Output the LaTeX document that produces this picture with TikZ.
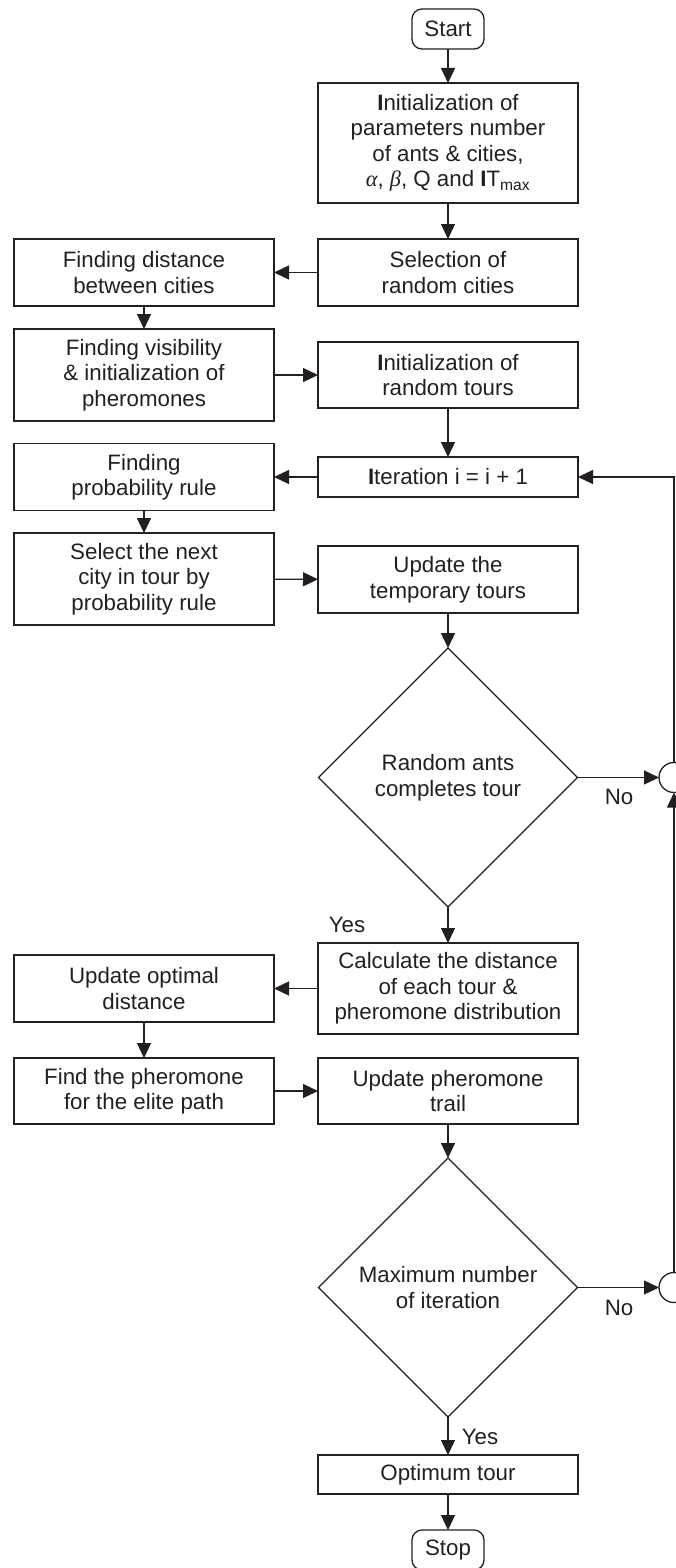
\documentclass[tikz,border=0pt]{standalone}
\usepackage{fontspec}
\setmainfont{Liberation Sans}
\newfontfamily\greekfont{Liberation Serif}
\usetikzlibrary{shapes.geometric,arrows.meta}
\definecolor{ink}{RGB}{35,31,32}
\begin{document}
\begin{tikzpicture}[x=1pt,y=-1pt,
  every node/.style={text=ink,font=\fontsize{22.3}{25.5}\selectfont},
  base/.style={draw=ink,line width=1.3pt,align=center,inner sep=0pt,outer sep=0pt},
  procbox/.style={base,rectangle,minimum width=260pt},
  termbox/.style={base,rectangle,rounded corners=10pt,minimum width=72pt,minimum height=40pt},
  decision/.style={base,diamond,aspect=1,minimum width=259pt,minimum height=259pt},
  joint/.style={base,circle,fill=white,minimum size=30pt},
  flow/.style={draw=ink,line width=1.3pt,-{Triangle[length=15pt,width=14pt]}},
  lbl/.style={inner sep=0pt}]
\useasboundingbox (0,0) rectangle (676,1568);

% main column
\node[termbox] (start) at (448,29) {Start};
\node[procbox,minimum height=120pt] (init) at (448,143)
  {\textbf{I}nitialization of\\parameters number\\of ants \& cities,\\{\greekfont\itshape α}, {\greekfont\itshape β}, Q and \textbf{I}T\textsubscript{max}};
\node[procbox,minimum height=67pt] (sel) at (448,272.5) {Selection of\\random cities};
\node[procbox,minimum height=66pt] (rtours) at (448,375) {\textbf{I}nitialization of\\random tours};
\node[procbox,minimum height=40pt] (iter) at (448,477) {\textbf{I}teration i = i + 1};
\node[procbox,minimum height=67pt] (temp) at (448,579.5) {Update the\\temporary tours};
\node[decision] (dia1) at (448,777.5) {Random ants\\completes tour};
\node[procbox,minimum height=91pt] (calc) at (448,988.5) {Calculate the distance\\of each tour \&\\pheromone distribution};
\node[procbox,minimum height=66pt] (trail) at (448,1091) {Update pheromone\\trail};
\node[decision] (dia2) at (448,1287.5) {Maximum number\\of iteration};
\node[procbox,minimum height=39pt] (optimum) at (448,1474.5) {Optimum tour};
\node[termbox] (stop) at (448,1550) {Stop};

% side column
\node[procbox,minimum height=67pt] (dist) at (144,272.5) {Finding distance\\between cities};
\node[procbox,minimum height=92pt] (vis) at (144,375) {Finding visibility\\\& initialization of\\pheromones};
\node[procbox,minimum height=67pt] (prob) at (144,477) {Finding\\probability rule};
\node[procbox,minimum height=92pt] (next) at (144,579) {Select the next\\city in tour by\\probability rule};
\node[procbox,minimum height=67pt] (opt) at (144,988.5) {Update optimal\\distance};
\node[procbox,minimum height=66pt] (elite) at (144,1091) {Find the pheromone\\for the elite path};

% connector joints on the right edge
\node[joint] (j1) at (674,777.5) {};
\node[joint] (j2) at (674,1287.5) {};

% labels
\node[lbl] (no1) at (619,797) {No};
\node[lbl] (no2) at (619,1308) {No};
\node[lbl] (yes1) at (347,925) {Yes};
\node[lbl] (yes2) at (480,1437) {Yes};

% connectors
\draw[flow] (start) -- (init);
\draw[flow] (init) -- (sel);
\draw[flow] (sel) -- (dist);
\draw[flow] (dist) -- (vis);
\draw[flow] (vis) -- (rtours);
\draw[flow] (rtours) -- (iter);
\draw[flow] (iter) -- (prob);
\draw[flow] (prob) -- (next);
\draw[flow] (next) -- (temp);
\draw[flow] (temp) -- (dia1);
\draw[flow] (dia1.east) -- (j1.west);
\draw[flow] (j1.north) |- (iter.east);
\draw[flow] (dia1.south) -- (calc);
\draw[flow] (calc) -- (opt);
\draw[flow] (opt) -- (elite);
\draw[flow] (elite) -- (trail);
\draw[flow] (trail) -- (dia2);
\draw[flow] (dia2.east) -- (j2.west);
\draw[flow] (j2.north) -- (j1.south);
\draw[flow] (dia2.south) -- (optimum);
\draw[flow] (optimum) -- (stop);
\end{tikzpicture}
\end{document}
